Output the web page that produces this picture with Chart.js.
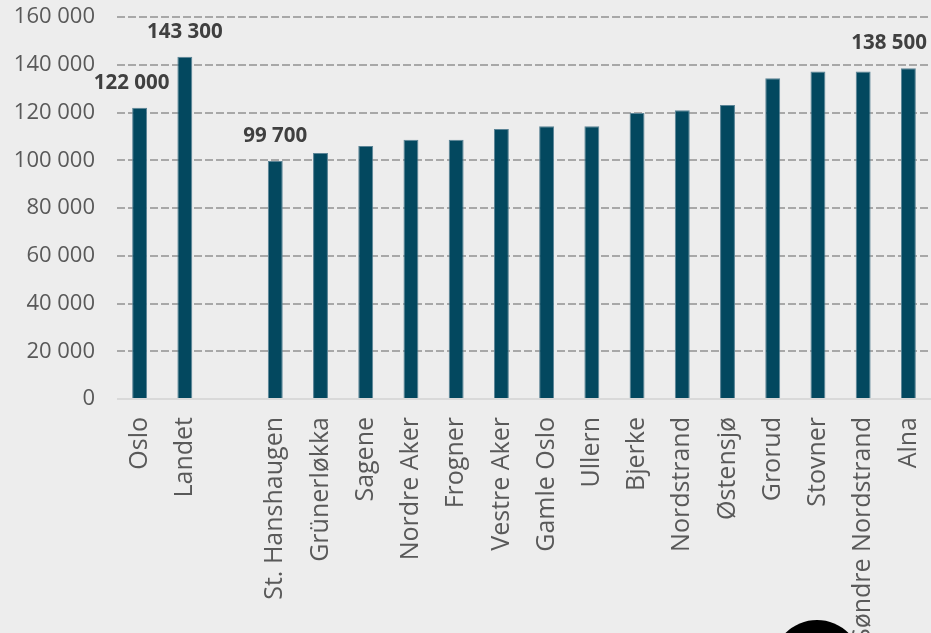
<!DOCTYPE html>
<html>
<head>
<meta charset="utf-8">
<script src="https://cdn.jsdelivr.net/npm/chart.js@4"></script>
<style>
  html, body { margin: 0; padding: 0; background: #ededed; overflow: hidden; }
  #wrap { position: relative; width: 931px; height: 633px; }
  #logo { position: absolute; left: 772px; top: 620px; width: 90px; height: 90px; border-radius: 50%; background: #000; }
</style>
</head>
<body>
<div id="wrap">
  <canvas id="lonnChart" width="931" height="633"></canvas>
  <div id="logo"></div>
</div>
<script>
// Kategorier (tom plass mellom Landet og bydelene)
const categories = ['Oslo', 'Landet', '', 'St. Hanshaugen', 'Grünerløkka', 'Sagene', 'Nordre Aker',
  'Frogner', 'Vestre Aker', 'Gamle Oslo', 'Ullern', 'Bjerke', 'Nordstrand', 'Østensjø',
  'Grorud', 'Stovner', 'Søndre Nordstrand', 'Alna'];
const values = [122000, 143300, null, 99700, 103000, 106000, 108600, 108600, 113100,
  114200, 114200, 119800, 120900, 123100, 134300, 137200, 137200, 138500];
const yTicks = [0, 20000, 40000, 60000, 80000, 100000, 120000, 140000, 160000];
const labelledBars = [0, 1, 3, 17];

const fmt = v => String(v).replace(/\B(?=(\d{3})+(?!\d))/g, ' ');

// verdietiketter over utvalgte søyler
const barLabels = {
  id: 'barLabels',
  afterDatasetsDraw(chart) {
    const ctx = chart.ctx;
    const meta = chart.getDatasetMeta(0);
    const area = chart.chartArea;
    ctx.save();
    ctx.font = 'bold 20.5px "Open Sans"';
    ctx.fillStyle = '#404040';
    ctx.textBaseline = 'middle';
    labelledBars.forEach(i => {
      const bar = meta.data[i];
      const txt = fmt(values[i]);
      const w = ctx.measureText(txt).width;
      let x = bar.x - w / 2;
      if (i === 0) x -= 8;
      if (x + w > area.right - 4) x = area.right - 4 - w;
      ctx.textAlign = 'left';
      ctx.fillText(txt, x, bar.y - 25);
    });
    ctx.restore();
  }
};

new Chart(document.getElementById('lonnChart').getContext('2d'), {
  type: 'bar',
  data: {
    labels: categories,
    datasets: [{
      data: values,
      backgroundColor: '#03485f',
      borderColor: '#5b8496',
      borderWidth: 1,
      borderSkipped: 'bottom',
      barPercentage: 0.33,
      categoryPercentage: 1
    }]
  },
  options: {
    responsive: false,
    animation: false,
    layout: { padding: { top: 17, right: 0, left: 0, bottom: 0 } },
    plugins: { legend: { display: false }, tooltip: { enabled: false } },
    scales: {
      x: {
        grid: { display: false, drawTicks: false },
        border: { display: false },
        ticks: {
          color: '#595959',
          font: { family: '"Open Sans"', size: 25 },
          minRotation: 90,
          maxRotation: 90,
          autoSkip: false,
          padding: 18
        },
        afterFit: s => { s.height = 234; s.paddingLeft = 0; s.paddingRight = 0; }
      },
      y: {
        min: 0,
        max: 160000,
        afterBuildTicks: s => { s.ticks = yTicks.map(v => ({ value: v })); },
        grid: {
          drawTicks: false,
          lineWidth: 2,
          color: c => c.tick && c.tick.value === 0 ? '#d9d9d9' : '#a8a8a8'
        },
        border: {
          display: false,
          dash: c => c.tick && c.tick.value === 0 ? [] : [8, 3]
        },
        ticks: {
          color: '#595959',
          font: { family: '"Open Sans"', size: 22 },
          padding: 22,
          callback: v => fmt(v)
        },
        afterFit: s => { s.width = 117; s.paddingTop = 0; s.paddingBottom = 0; }
      }
    }
  },
  plugins: [barLabels]
});
</script>
</body>
</html>
